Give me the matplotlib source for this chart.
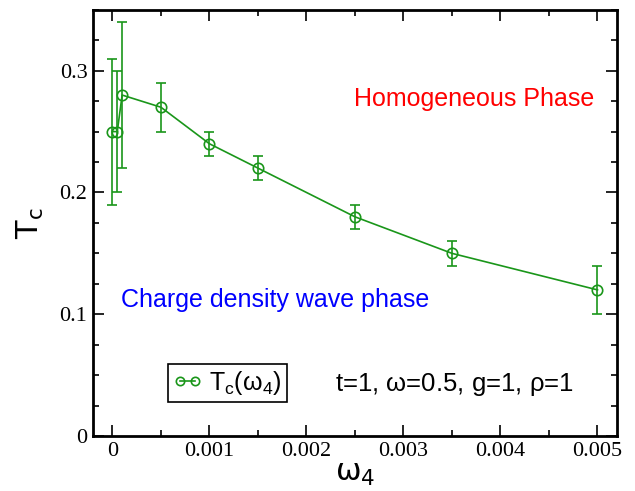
import matplotlib
matplotlib.use('Agg')
import matplotlib.pyplot as plt
from matplotlib.lines import Line2D
from matplotlib.ticker import MultipleLocator

# Data
omega4 = [0.0, 0.00005, 0.0001, 0.0005, 0.001, 0.0015, 0.0025, 0.0035, 0.005]
tc = [0.25, 0.25, 0.28, 0.27, 0.24, 0.22, 0.18, 0.15, 0.12]
tc_err = [0.06, 0.05, 0.06, 0.02, 0.01, 0.01, 0.01, 0.01, 0.02]

x_ticks = [0, 0.001, 0.002, 0.003, 0.004, 0.005]
x_tick_labels = ['0', '0.001', '0.002', '0.003', '0.004', '0.005']
y_ticks = [0, 0.1, 0.2, 0.3]
y_tick_labels = ['0', '0.1', '0.2', '0.3']

GREEN = '#1a961a'
SANS = 'Liberation Sans'
SERIF = 'Liberation Serif'

plt.rcParams['mathtext.fontset'] = 'custom'
plt.rcParams['mathtext.rm'] = SANS
plt.rcParams['mathtext.it'] = SANS
plt.rcParams['mathtext.default'] = 'regular'

fig = plt.figure(figsize=(6.35, 4.91), dpi=100)
ax = fig.add_axes([0.1465, 0.112, 0.825, 0.868])

ax.errorbar(omega4, tc, yerr=tc_err, color=GREEN, marker='o', markersize=7.5,
            markerfacecolor='none', markeredgewidth=1.2, linewidth=1.2,
            elinewidth=1.2, capsize=3.5, capthick=1.2)

ax.set_xlim(-0.0002, 0.0052)
ax.set_ylim(0, 0.35)
ax.set_xticks(x_ticks)
ax.set_xticklabels(x_tick_labels, fontfamily=SERIF, fontsize=16)
ax.set_yticks(y_ticks)
ax.set_yticklabels(y_tick_labels, fontfamily=SERIF, fontsize=16)
ax.xaxis.set_minor_locator(MultipleLocator(0.0005))
ax.yaxis.set_minor_locator(MultipleLocator(0.025))
ax.tick_params(which='both', direction='in', top=True, right=True, width=1.2)
ax.tick_params(which='major', length=8, pad=4)
ax.tick_params(which='minor', length=4)
for spine in ax.spines.values():
    spine.set_linewidth(2)

ax.set_xlabel(r'$\omega_4$', fontsize=22, labelpad=-1)
ax.set_ylabel(r'$T_c$', fontsize=22, labelpad=10)

ax.text(0.00373, 0.277, 'Homogeneous Phase', color='red', fontsize=18,
        fontfamily=SANS, ha='center', va='center')
ax.text(0.00168, 0.112, 'Charge density wave phase', color='blue', fontsize=18,
        fontfamily=SANS, ha='center', va='center')
ax.text(0.00353, 0.042, r't=1, $\omega$=0.5, g=1, $\rho$=1', color='black', fontsize=18.5,
        fontfamily=SANS, ha='center', va='center')

handle = Line2D([], [], color=GREEN, marker='o', markersize=6, markerfacecolor='none',
                markeredgewidth=1.2, linewidth=1.2)
leg = ax.legend([handle], [r'$T_c(\omega_4)$'], loc='lower left', bbox_to_anchor=(0.143, 0.08),
                borderaxespad=0, prop={'family': SANS, 'size': 18}, numpoints=2,
                handlelength=1.2, handletextpad=0.25, borderpad=0.2, fancybox=False,
                framealpha=1)
leg.get_frame().set_edgecolor('black')
leg.get_frame().set_linewidth(1.2)

fig.savefig('out.png', dpi=100)
